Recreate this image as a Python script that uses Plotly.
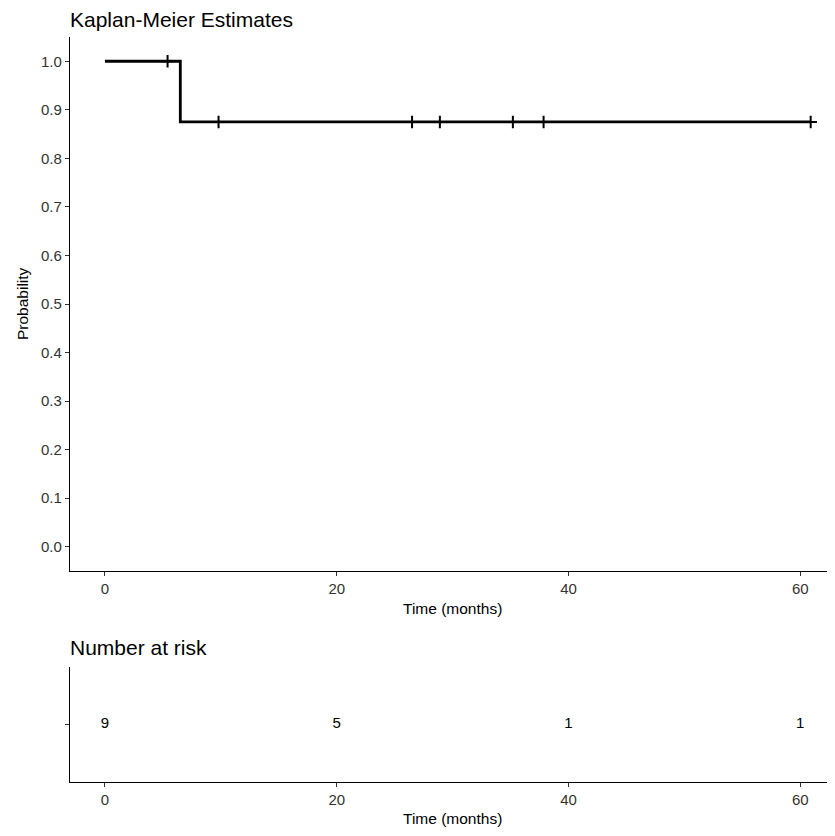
import plotly.graph_objects as go

# ---- data ----
step_times = [0, 6.5, 60.9]
step_surv = [1.0, 0.875, 0.875]
censor_times = [5.4, 9.8, 26.5, 28.9, 35.2, 37.85, 60.9]
censor_surv = [1.0, 0.875, 0.875, 0.875, 0.875, 0.875, 0.875]
risk_times = [0, 20, 40, 60]
risk_counts = [9, 5, 1, 1]
x_ticks = [0, 20, 40, 60]
y_ticks = [0.0, 0.1, 0.2, 0.3, 0.4, 0.5, 0.6, 0.7, 0.8, 0.9, 1.0]

OFF = 8  # page body offset
W, H = 835 - OFF, 836 - OFF
ML, MR, MT, MB = 70 - OFF, 0, 37 - OFF, 54
PH = H - MT - MB

def py(p):
    return (H - MB - (p - OFF)) / PH

def px(p):
    return (p - OFF - ML) / (W - ML - MR)

FONT = "Liberation Sans, Arial"

fig = go.Figure()
fig.add_trace(go.Scatter(x=step_times, y=step_surv, mode="lines",
                         line=dict(shape="hv", color="black", width=2.8),
                         xaxis="x", yaxis="y", showlegend=False, hoverinfo="skip"))
fig.add_trace(go.Scatter(x=censor_times, y=censor_surv, mode="markers",
                         marker=dict(symbol="cross-thin", size=9, color="black",
                                     line=dict(color="black", width=2)),
                         xaxis="x", yaxis="y", showlegend=False))
fig.add_trace(go.Scatter(x=risk_times, y=[0.5] * len(risk_times), mode="text",
                         text=[str(c) for c in risk_counts],
                         textfont=dict(family=FONT, size=15, color="black"),
                         xaxis="x2", yaxis="y2", showlegend=False))

axis_common = dict(showline=True, linecolor="black", linewidth=1.2, ticks="outside",
                   ticklen=4, tickcolor="#333333", tickwidth=1, showgrid=False, zeroline=False,
                   tickfont=dict(family=FONT, size=15, color="#333333"))

xr = [-3.02, 63.0]
fig.update_layout(
    width=W, height=H,
    margin=dict(l=ML, r=MR, t=MT, b=MB),
    plot_bgcolor="white", paper_bgcolor="white",
    xaxis=dict(domain=[0, 1], range=xr, tickvals=x_ticks, anchor="y", **axis_common),
    yaxis=dict(domain=[py(571), 1], range=[-0.05, 1.05], tickvals=y_ticks,
               ticktext=[f"{v:.1f}" for v in y_ticks], anchor="x", **axis_common),
    xaxis2=dict(domain=[0, 1], range=xr, tickvals=x_ticks, anchor="y2", **axis_common),
    yaxis2=dict(domain=[0, py(667)], range=[0, 1], tickvals=[0.5], ticktext=[""],
                anchor="x2", **axis_common),
)

font_t = dict(family=FONT, color="black")
ann = [
    dict(text="Kaplan-Meier Estimates", x=px(68), y=py(20), xanchor="left", yanchor="middle",
         font=dict(size=21, **font_t)),
    dict(text="Number at risk", x=px(68), y=py(647), xanchor="left", yanchor="middle",
         font=dict(size=21, **font_t)),
    dict(text="Time (months)", x=0.5, y=py(608), xanchor="center", yanchor="middle",
         font=dict(size=15.5, **font_t)),
    dict(text="Time (months)", x=0.5, y=py(818), xanchor="center", yanchor="middle",
         font=dict(size=15.5, **font_t)),
    dict(text="Probability", x=px(22), y=py(304), xanchor="center", yanchor="middle",
         textangle=-90, font=dict(size=15.5, **font_t)),
]
for a in ann:
    a.update(xref="paper", yref="paper", showarrow=False)
fig.update_layout(annotations=ann)

fig.write_html("out.html")
